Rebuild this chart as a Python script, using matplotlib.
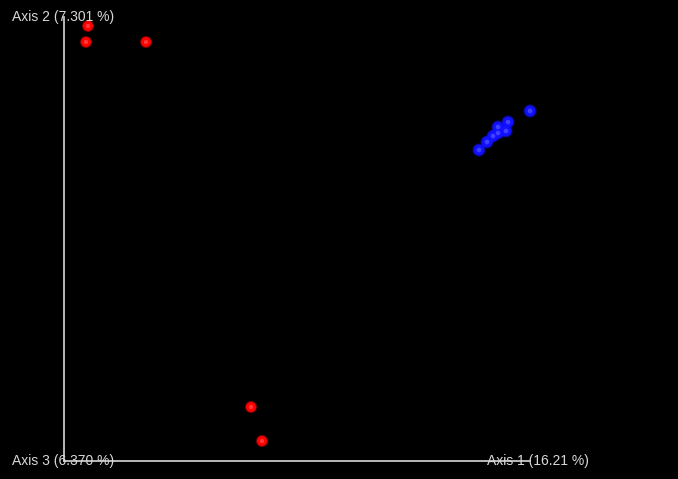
import matplotlib
matplotlib.use("Agg")
import matplotlib.pyplot as plt
import numpy as np

# PCoA scores (estimated)
red_pc1 = [-0.242, -0.244, -0.184, -0.079, -0.068]
red_pc2 = [0.214, 0.198, 0.198, -0.167, -0.201]
blue_pc1 = [0.200, 0.178, 0.168, 0.176, 0.168, 0.163, 0.157, 0.149]
blue_pc2 = [0.129, 0.118, 0.113, 0.109, 0.107, 0.104, 0.098, 0.090]

axis_labels = ["Axis 1 (16.21 %)", "Axis 2 (7.301 %)", "Axis 3 (6.370 %)"]

fig = plt.figure(figsize=(6.78, 4.79), dpi=100, facecolor="black")
ax = fig.add_axes([0, 0, 1, 1])
ax.set_facecolor("black")
ax.set_xlim(-0.330, 0.348)
ax.set_ylim(-0.239, 0.240)
ax.axis("off")

# axes frame of the 3D view
ox, oy = -0.266, -0.221
ax.plot([ox, ox], [oy, 0.223], color="#d8d8d8", lw=1.2, zorder=1)
ax.plot([ox, 0.200], [oy, oy], color="#d8d8d8", lw=1.2, zorder=1)

def spheres(xs, ys, base, light, s):
    ax.scatter(xs, ys, s=s * 1.45, color=base, edgecolors="none", zorder=3, alpha=0.45)
    ax.scatter(xs, ys, s=s, color=base, edgecolors="none", zorder=4)
    ax.scatter(xs, ys, s=s * 0.18, color=light, edgecolors="none", zorder=5, alpha=0.5)

spheres(red_pc1, red_pc2, "#ff0000", "#ff7070", 52)
spheres(blue_pc1, blue_pc2, "#1010ff", "#7070ff", 62)

tc = "#d8d8d8"
fp = dict(color=tc, fontsize=10, family=["Liberation Sans", "DejaVu Sans"], zorder=6)
ax.text(0.018, 1 - 17 / 479, axis_labels[1], transform=ax.transAxes, va="center", ha="left", **fp)
ax.text(0.018, 1 - 461 / 479, axis_labels[2], transform=ax.transAxes, va="center", ha="left", **fp)
ax.text(487 / 678, 1 - 461 / 479, axis_labels[0], transform=ax.transAxes, va="center", ha="left", **fp)

fig.savefig("out.png", dpi=100, facecolor="black")
